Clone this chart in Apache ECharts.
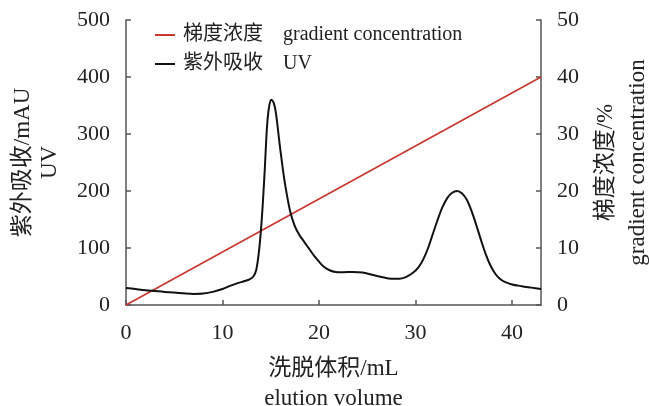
<!DOCTYPE html>
<html>
<head>
<meta charset="utf-8">
<script src="https://cdn.jsdelivr.net/npm/echarts@6/dist/echarts.min.js"></script>
<style>
html,body{margin:0;padding:0;background:#fff;}
#chart{width:649px;height:406px;}
</style>
</head>
<body>
<div id="chart"></div>
<script>
// Elution volume (mL) and UV absorbance (mAU)
const uvVolume = [0, 1, 2, 3, 4, 5, 6, 7, 8, 9, 10, 10.7, 11.5, 12.3, 12.8, 13.2, 13.5, 13.75, 14.0, 14.2, 14.4, 14.6, 14.8, 15.05, 15.3, 15.55, 15.9, 16.2, 16.5, 17.0, 17.5, 18.0, 18.5, 19.0, 19.5, 20.0, 20.5, 21.1, 21.7, 22.5, 23.5, 24.5, 25.5, 26.5, 27.5, 28.3, 29.0, 29.7, 30.3, 30.8, 31.3, 31.8, 32.3, 32.8, 33.3, 33.8, 34.3, 34.8, 35.3, 35.8, 36.3, 36.8, 37.3, 37.8, 38.3, 38.8, 39.3, 40.0, 41, 42, 43];
const uvAbsorbance = [30, 28, 26, 24.5, 23, 22, 20.5, 19.5, 20, 23, 28, 33, 38, 42, 45, 50, 62, 90, 135, 185, 245, 310, 345, 360, 355, 335, 285, 245, 210, 165, 138, 122, 110, 98, 86, 76, 67, 61, 58, 57.5, 58, 57, 53, 49, 46, 46, 49, 56, 66, 80, 100, 125, 150, 172, 188, 197, 200, 196, 185, 165, 140, 113, 88, 68, 54, 45, 40, 36, 33, 30.5, 28];
// Gradient concentration (%)
const gradVolume = [0, 43];
const gradConc = [0, 40];
// Axis ticks
const xTicks = { min: 0, max: 43, interval: 10 };
const yLeftTicks = { min: 0, max: 500, interval: 100 };
const yRightTicks = { min: 0, max: 50, interval: 10 };
const legendNames = ['梯度浓度    gradient concentration', '紫外吸收    UV'];

const FONT = "'Liberation Serif', 'Noto Sans CJK SC', serif";
const axisCol = '#555';
const txtCol = '#222';

const uvData = uvVolume.map((v, i) => [v, uvAbsorbance[i]]);
const gradData = gradVolume.map((v, i) => [v, gradConc[i]]);

const chart = echarts.init(document.getElementById('chart'), null, { renderer: 'canvas' });
chart.setOption({
  animation: false,
  backgroundColor: '#fff',
  textStyle: { fontFamily: FONT },
  grid: { left: 126, right: 108, top: 20, bottom: 101, containLabel: false, outerBoundsMode: 'none' },
  legend: {
    orient: 'vertical',
    left: 155,
    top: 25,
    padding: 0,
    itemWidth: 20,
    itemHeight: 2,
    itemGap: 9,
    icon: 'rect',
    textStyle: { fontFamily: FONT, fontSize: 20, color: txtCol, lineHeight: 20, padding: [0, 0, 0, 3] },
    data: legendNames
  },
  xAxis: {
    type: 'value',
    min: xTicks.min, max: xTicks.max, interval: xTicks.interval,
    name: '洗脱体积/mL\nelution volume',
    nameLocation: 'middle',
    nameGap: 49,
    nameTextStyle: { fontFamily: FONT, fontSize: 23, color: txtCol, lineHeight: 30 },
    axisLine: { show: true, lineStyle: { color: axisCol, width: 1.5 } },
    axisTick: { show: true, inside: true, length: 5, lineStyle: { color: axisCol, width: 1.5 } },
    axisLabel: { fontFamily: FONT, fontSize: 22, color: txtCol, margin: 17, showMaxLabel: false },
    splitLine: { show: false }
  },
  yAxis: [
    {
      type: 'value',
      position: 'left',
      min: yLeftTicks.min, max: yLeftTicks.max, interval: yLeftTicks.interval,
      name: '紫外吸收/mAU\nUV',
      nameLocation: 'middle',
      nameRotate: 90,
      nameGap: 63,
      nameTextStyle: { fontFamily: FONT, fontSize: 23, color: txtCol, lineHeight: 27 },
      axisLine: { show: true, lineStyle: { color: axisCol, width: 1.5 } },
      axisTick: { show: true, inside: true, length: 5, lineStyle: { color: axisCol, width: 1.5 } },
      axisLabel: { fontFamily: FONT, fontSize: 22, color: txtCol, margin: 16 },
      splitLine: { show: false }
    },
    {
      type: 'value',
      position: 'right',
      min: yRightTicks.min, max: yRightTicks.max, interval: yRightTicks.interval,
      name: '梯度浓度/%\ngradient concentration',
      nameLocation: 'middle',
      nameRotate: 90,
      nameGap: 48,
      nameTextStyle: { fontFamily: FONT, fontSize: 23, color: txtCol, lineHeight: 32 },
      axisLine: { show: true, lineStyle: { color: axisCol, width: 1.5 } },
      axisTick: { show: true, inside: true, length: 5, lineStyle: { color: axisCol, width: 1.5 } },
      axisLabel: { fontFamily: FONT, fontSize: 22, color: txtCol, margin: 16 },
      splitLine: { show: false }
    }
  ],
  series: [
    {
      name: legendNames[0],
      type: 'line',
      yAxisIndex: 1,
      data: gradData,
      showSymbol: false,
      lineStyle: { color: '#c8372d', width: 1.6 },
      itemStyle: { color: '#c8372d' }
    },
    {
      name: legendNames[1],
      type: 'line',
      yAxisIndex: 0,
      data: uvData,
      smooth: 0.3,
      showSymbol: false,
      lineStyle: { color: '#111', width: 2 },
      itemStyle: { color: '#111' }
    }
  ]
});
</script>
</body>
</html>
